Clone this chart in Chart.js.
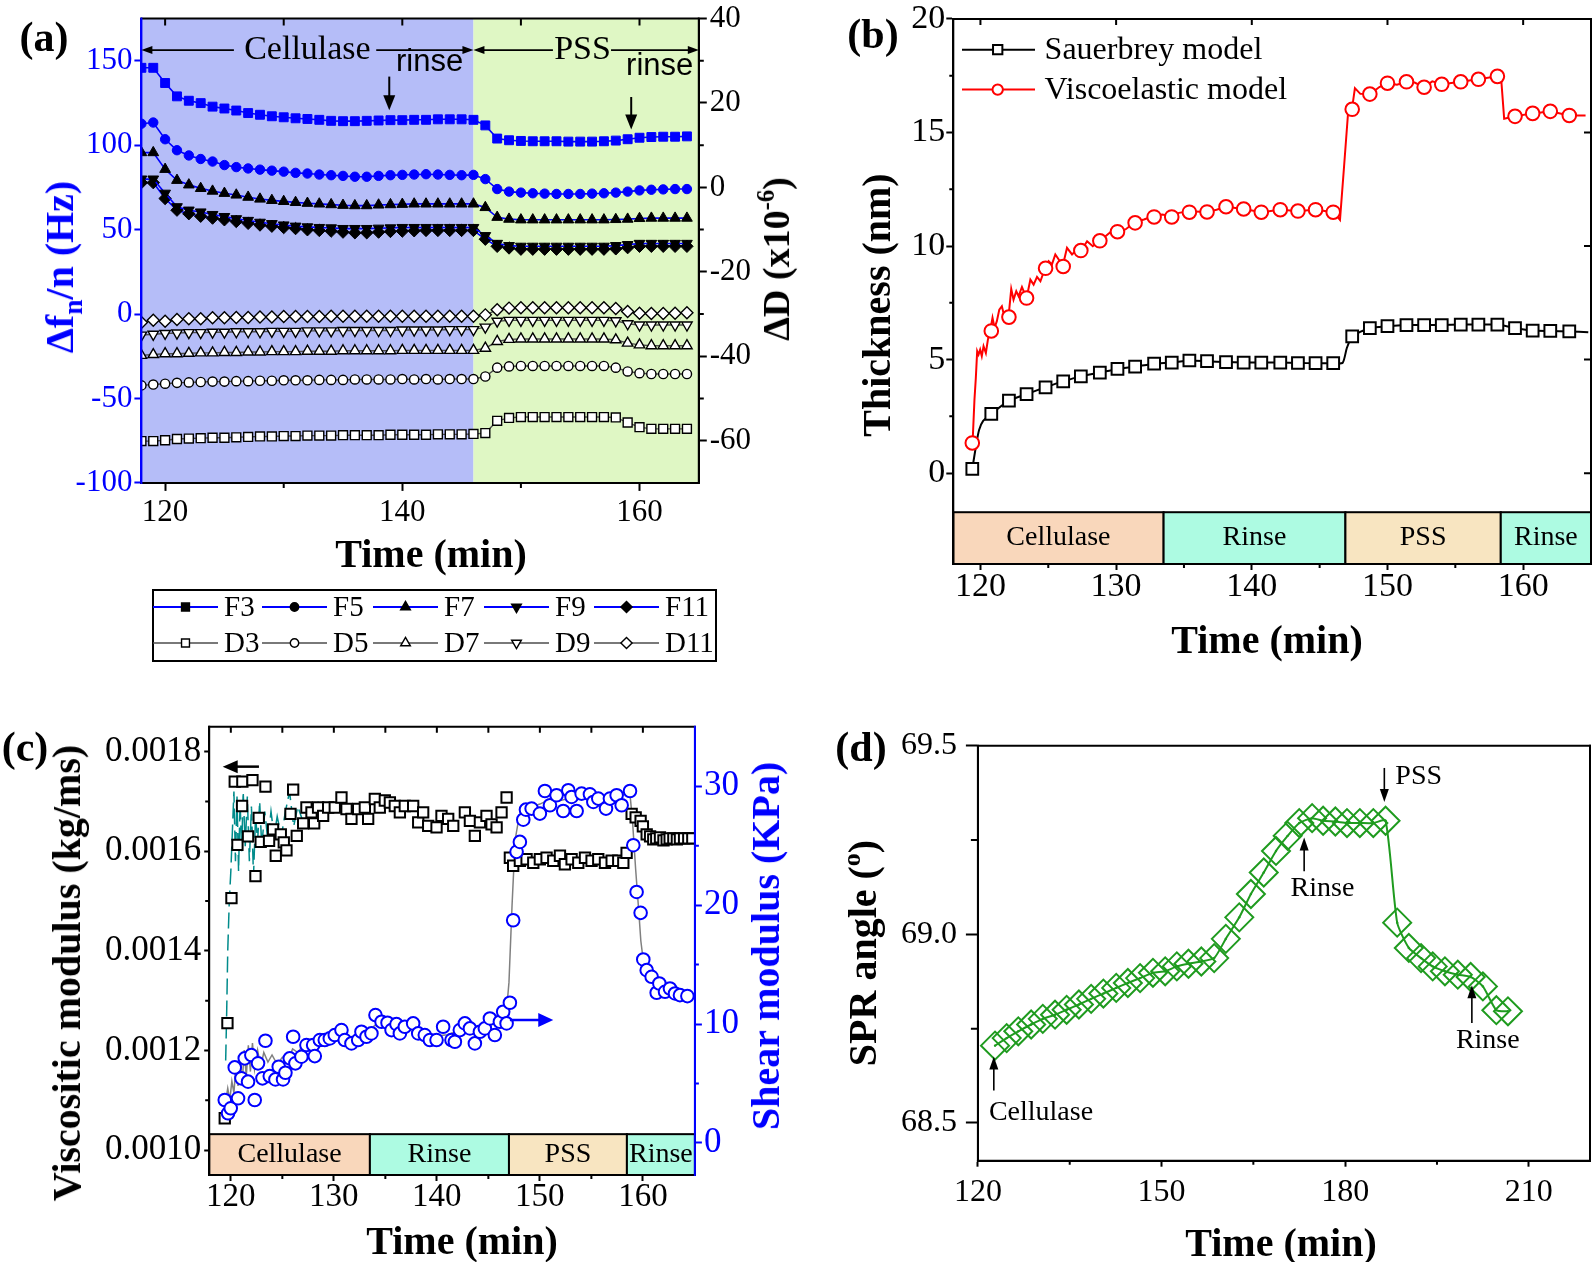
<!DOCTYPE html>
<html lang="en">
<head>
<meta charset="utf-8">
<title>QCM-D / SPR of cellulase and PSS layers</title>
<script src="https://cdn.jsdelivr.net/npm/chart.js@4.4.1/dist/chart.umd.min.js"></script>
<style>
  html, body { margin: 0; padding: 0; background: #fff; }
  body { position: relative; width: 1594px; height: 1262px; overflow: hidden;
         font-family: "Liberation Serif", "Times New Roman", serif; }
  canvas { position: absolute; }
  .t { position: absolute; white-space: nowrap; line-height: 1; font-weight: bold;
       font-size: 40px; color: #000; transform: translate(-50%, -50%); }
  .up { transform: translate(-50%, -50%) rotate(-90deg); }
  .t sub { font-size: 68%; vertical-align: -0.32em; line-height: 0; }
  .t sup { font-size: 65%; vertical-align: 0.62em; line-height: 0; }
</style>
</head>
<body>
<canvas id="chartA" width="760" height="670" style="left:0;top:0"></canvas>
<canvas id="chartB" width="774" height="660" style="left:820px;top:0"></canvas>
<canvas id="chartC" width="800" height="572" style="left:0;top:690px"></canvas>
<canvas id="chartD" width="774" height="572" style="left:820px;top:690px"></canvas>

<div class="t" style="left:44px;top:37px;font-size:42px">(a)</div>
<div class="t" style="left:431px;top:554px">Time (min)</div>
<div class="t up" style="left:60px;top:267px;color:#0000ff">&Delta;f<sub>n</sub>/n (Hz)</div>
<div class="t up" style="left:776px;top:259px;font-size:38px">&Delta;D (x10<sup>-6</sup>)</div>

<div class="t" style="left:873px;top:34px;font-size:42px">(b)</div>
<div class="t" style="left:1267px;top:640px">Time (min)</div>
<div class="t up" style="left:877px;top:305px">Thickness (nm)</div>

<div class="t" style="left:25px;top:747px;font-size:42px">(c)</div>
<div class="t" style="left:462px;top:1241px">Time (min)</div>
<div class="t up" style="left:67px;top:973px">Viscositic modulus (kg/ms)</div>
<div class="t up" style="left:766px;top:946px;color:#0000ff">Shear modulus (KPa)</div>

<div class="t" style="left:861px;top:747px;font-size:42px">(d)</div>
<div class="t" style="left:1281px;top:1243px">Time (min)</div>
<div class="t up" style="left:863px;top:953px">SPR angle (<sup>o</sup>)</div>

<script>
// ==========================================
// DATA — panel (a): QCM-D frequency and dissipation shifts
// ==========================================
const timeA = [118, 119, 120, 121, 122, 123, 124, 125, 126, 127, 128, 129, 130, 131, 132, 133,
  134, 135, 136, 137, 138, 139, 140, 141, 142, 143, 144, 145, 146, 147, 148, 149, 150, 151, 152,
  153, 154, 155, 156, 157, 158, 159, 160, 161, 162, 163, 164];

const freqF3 = [145.8, 145.8, 136.8, 128.9, 126.3, 124.9, 122.8, 121.7, 120.5, 119.0, 118.0, 117.1,
  116.5, 115.9, 115.5, 115.0, 114.4, 114.2, 114.2, 114.4, 114.6, 114.8, 114.8, 115.0, 115.0, 115.3,
  115.3, 115.3, 115.0, 111.7, 103.9, 102.9, 102.5, 102.3, 102.3, 102.3, 102.1, 102.1, 102.1, 102.3,
  102.7, 103.5, 104.4, 104.8, 105.0, 105.0, 105.2];
const freqF5 = [112.7, 113.4, 103.5, 97.0, 93.9, 91.8, 90.3, 88.2, 87.0, 86.2, 85.5, 84.9, 84.3,
  83.6, 83.2, 82.6, 82.2, 81.8, 81.3, 81.3, 81.8, 82.2, 82.4, 82.6, 82.8, 82.6, 82.4, 82.2, 82.4,
  79.9, 74.0, 72.5, 71.9, 71.5, 71.3, 71.1, 71.1, 71.1, 71.3, 71.5, 71.9, 72.5, 73.2, 73.6, 73.8,
  74.0, 74.0];
const freqF7 = [95.6, 95.6, 85.7, 79.2, 76.5, 74.4, 72.8, 71.5, 70.5, 69.2, 68.1, 67.3, 66.7, 66.1,
  65.6, 65.2, 64.8, 64.4, 64.2, 64.2, 64.6, 64.8, 65.0, 65.2, 65.2, 65.2, 65.2, 65.2, 65.2, 63.1,
  57.3, 56.2, 55.8, 55.8, 55.8, 55.8, 55.8, 55.8, 55.8, 55.8, 56.0, 56.2, 56.6, 56.8, 56.8, 56.8, 56.8];
const freqF9 = [79.9, 79.9, 71.5, 63.5, 61.5, 60.4, 58.9, 57.7, 56.4, 55.4, 54.3, 53.5, 52.7, 52.0,
  51.6, 51.2, 51.0, 50.6, 50.6, 50.6, 50.8, 51.0, 51.2, 51.2, 51.2, 51.2, 51.2, 51.2, 51.2, 46.4,
  41.8, 40.5, 40.1, 40.1, 40.1, 40.1, 40.1, 40.1, 40.1, 40.1, 40.5, 41.1, 41.8, 41.8, 41.8, 41.8, 41.8];
const freqF11 = [77.8, 77.8, 68.4, 61.5, 59.4, 57.9, 56.8, 55.8, 54.8, 53.7, 52.7, 52.0, 51.2, 50.6,
  49.9, 49.5, 49.1, 48.5, 48.1, 48.1, 48.5, 48.9, 49.1, 49.3, 49.5, 49.5, 49.5, 49.5, 49.5, 44.3,
  40.1, 39.1, 38.4, 38.4, 38.4, 38.4, 38.4, 38.4, 38.4, 38.4, 38.6, 39.3, 40.1, 40.1, 40.1, 40.1, 40.1];

const dissD3 = [-60.1, -60.1, -59.9, -59.6, -59.5, -59.4, -59.3, -59.3, -59.2, -59.1, -59.0, -59.0,
  -58.9, -58.9, -58.8, -58.8, -58.8, -58.7, -58.7, -58.7, -58.7, -58.6, -58.6, -58.6, -58.6, -58.5,
  -58.5, -58.5, -58.4, -58.2, -55.3, -54.6, -54.4, -54.4, -54.4, -54.4, -54.4, -54.4, -54.4, -54.4,
  -54.5, -55.7, -56.8, -57.2, -57.2, -57.2, -57.2];
const dissD5 = [-46.9, -46.7, -46.5, -46.3, -46.2, -46.1, -46.0, -46.0, -45.9, -45.9, -45.8, -45.8,
  -45.7, -45.7, -45.7, -45.6, -45.6, -45.6, -45.5, -45.5, -45.5, -45.5, -45.4, -45.5, -45.4, -45.5,
  -45.4, -45.4, -45.4, -44.8, -42.7, -42.4, -42.3, -42.3, -42.3, -42.3, -42.3, -42.3, -42.3, -42.3,
  -42.7, -43.6, -44.0, -44.2, -44.2, -44.2, -44.2];
const dissD7 = [-39.8, -39.6, -39.4, -39.4, -39.3, -39.2, -39.2, -39.1, -39.1, -39.0, -39.0, -38.9,
  -38.9, -38.9, -38.8, -38.8, -38.8, -38.7, -38.7, -38.7, -38.7, -38.7, -38.6, -38.6, -38.6, -38.6,
  -38.6, -38.6, -38.6, -38.1, -36.5, -36.0, -35.9, -35.9, -35.9, -35.9, -35.9, -35.9, -35.9, -35.9,
  -36.1, -36.9, -37.3, -37.5, -37.5, -37.5, -37.5];
const dissD9 = [-35.0, -34.8, -34.6, -34.5, -34.4, -34.4, -34.3, -34.3, -34.2, -34.2, -34.2, -34.1,
  -34.1, -34.1, -34.0, -34.0, -34.0, -33.9, -33.9, -33.9, -33.9, -33.9, -33.8, -33.8, -33.8, -33.8,
  -33.7, -33.7, -33.7, -33.1, -31.7, -31.5, -31.5, -31.5, -31.5, -31.5, -31.5, -31.5, -31.5, -31.5,
  -31.6, -32.3, -32.6, -32.6, -32.6, -32.6, -32.6];
const dissD11 = [-32.0, -31.5, -31.7, -31.3, -31.1, -31.1, -30.9, -30.9, -30.8, -30.8, -30.7, -30.7,
  -30.6, -30.6, -30.6, -30.6, -30.5, -30.5, -30.5, -30.5, -30.5, -30.5, -30.5, -30.5, -30.5, -30.5,
  -30.5, -30.5, -30.5, -30.2, -29.0, -28.6, -28.5, -28.5, -28.5, -28.5, -28.5, -28.5, -28.5, -28.5,
  -28.7, -29.4, -29.8, -29.9, -29.9, -29.8, -29.7];

const ticksAx = [120, 140, 160];
const labelsAx = ['120', '140', '160'];
const ticksAyL = [-100, -50, 0, 50, 100, 150];
const labelsAyL = ['-100', '-50', '0', '50', '100', '150'];
const ticksAyR = [-60, -40, -20, 0, 20, 40];
const labelsAyR = ['-60', '-40', '-20', '0', '20', '40'];
const minorAx = [130, 150];
const topAx = [120, 130, 140, 150, 160];
const minorAyR = [-50, -30, -10, 10, 30];
const regionEdgesA = [118, 146, 165];
const regionColorsA = ['#b5bdf8', '#dff7c4'];

// ==========================================
// DATA — panel (b): layer thickness
// ==========================================
const timeB = [119.4, 120.8, 122.1, 123.4, 124.8, 126.1, 127.4, 128.8, 130.1, 131.4, 132.8, 134.1,
  135.4, 136.7, 138.1, 139.4, 140.7, 142.1, 143.4, 144.7, 146.0, 147.4, 148.7, 150.0, 151.4, 152.7,
  154.0, 155.4, 156.7, 158.1, 159.4, 160.7, 162.0, 163.4];
const sauerbrey = [0.19, 2.61, 3.19, 3.48, 3.78, 4.04, 4.26, 4.43, 4.59, 4.69, 4.82, 4.87, 4.96,
  4.93, 4.89, 4.87, 4.87, 4.87, 4.85, 4.84, 4.84, 6.02, 6.39, 6.47, 6.52, 6.52, 6.52, 6.54, 6.54,
  6.54, 6.39, 6.28, 6.26, 6.24];
const viscoelastic = [1.33, 6.26, 6.87, 7.71, 9.02, 9.10, 9.80, 10.23, 10.63, 11.02, 11.28, 11.28,
  11.49, 11.50, 11.73, 11.63, 11.49, 11.60, 11.54, 11.60, 11.49, 16.02, 16.69, 17.17, 17.23, 16.99,
  17.12, 17.23, 17.34, 17.47, 15.71, 15.84, 15.93, 15.75];

// raw traces drawn under the markers
const timeBS = [119.4, 119.7, 119.9, 120.2, 120.8, 122.1, 123.4, 124.8, 126.1, 127.4, 128.8, 130.1,
  131.4, 132.8, 134.1, 135.4, 136.7, 138.1, 139.4, 140.7, 142.1, 143.4, 144.7, 146.0, 146.7, 147.0,
  147.4, 148.7, 150.0, 151.4, 152.7, 154.0, 155.4, 156.7, 158.1, 159.4, 160.7, 162.0, 163.4, 164.8];
const sauerLine = [0.19, 1.3, 1.9, 2.3, 2.61, 3.19, 3.48, 3.78, 4.04, 4.26, 4.43, 4.59, 4.69, 4.82,
  4.87, 4.96, 4.93, 4.89, 4.87, 4.87, 4.87, 4.85, 4.84, 4.84, 4.86, 5.5, 6.02, 6.39, 6.47, 6.52,
  6.52, 6.52, 6.54, 6.54, 6.54, 6.39, 6.28, 6.26, 6.24, 6.2];
const timeBV = [119.42, 119.56, 119.66, 119.76, 119.86, 119.98, 120.10, 120.23, 120.40, 120.55,
  120.72, 120.89, 121.04, 121.21, 121.39, 121.58, 121.73, 122.07, 122.27, 122.44, 122.64, 122.81,
  123.06, 123.40, 123.68, 123.92, 124.17, 124.42, 124.76, 125.03, 125.27, 125.52, 125.77, 126.06,
  126.38, 126.75, 127.12, 127.44, 127.86, 128.28, 128.77, 129.22, 129.66, 130.08, 130.69, 131.38,
  132.05, 132.71, 133.40, 134.02, 134.63, 135.37, 136.73, 137.4, 138.08, 139.39, 140.74, 142.06,
  143.40, 144.72, 146.03, 146.5, 146.8, 147.1, 147.38, 147.6, 148.0, 148.73, 149.4, 150.04, 150.7,
  151.39, 152.0, 152.70, 153.3, 154.05, 155.36, 156.71, 158.06, 158.4, 158.6, 159.37, 160.72,
  162.03, 163.35, 164.6];
const viscoLine = [1.33, 3.24, 4.19, 5.37, 5.22, 5.44, 5.15, 5.59, 5.29, 5.88, 6.28, 6.84, 6.40,
  6.69, 7.20, 7.35, 6.98, 6.88, 8.11, 7.64, 8.01, 7.79, 8.20, 7.70, 8.52, 8.30, 8.64, 8.45, 9.01,
  9.33, 9.19, 9.63, 9.41, 9.11, 9.92, 9.63, 9.85, 9.81, 10.21, 9.99, 10.26, 10.43, 10.65, 10.65,
  10.73, 11.05, 11.17, 11.31, 11.39, 11.31, 11.46, 11.53, 11.50, 11.60, 11.73, 11.63, 11.49, 11.60,
  11.54, 11.60, 11.49, 11.15, 13.5, 15.9, 16.02, 16.95, 16.7, 16.69, 17.0, 17.17, 17.1, 17.23, 17.2,
  16.99, 17.25, 17.12, 17.23, 17.34, 17.47, 17.2, 15.6, 15.71, 15.84, 15.93, 15.75, 15.75];

const ticksBx = [120, 130, 140, 150, 160];
const labelsBx = ['120', '130', '140', '150', '160'];
const ticksBy = [0, 5, 10, 15, 20];
const labelsBy = ['0', '5', '10', '15', '20'];
const minorBx = [125, 135, 145, 155];
const topBx = [120, 130, 140, 150, 160];
const minorBy = [2.5, 7.5, 12.5, 17.5];

// process steps shown in the bands of (b) and (c)
const phaseNames = ['Cellulase', 'Rinse', 'PSS', 'Rinse'];
const phaseEdgesB = [118, 133.5, 146.9, 158.35, 165];
const phaseEdgesC = [117.9, 133.5, 147.0, 158.45, 165.05];
const phaseColors = ['#f9d7bb', '#adfbe2', '#f8e5c1', '#adfbe2'];

// ==========================================
// DATA — panel (c): viscosity and shear modulus
// ==========================================
const timeCv = [119.41, 119.67, 120.06, 120.38, 120.64, 121.09, 121.12, 121.67, 122.10, 122.39,
  122.71, 122.90, 123.36, 123.71, 124.10, 124.36, 124.85, 125.14, 125.40, 125.79, 126.05, 126.40,
  127.02, 127.34, 127.83, 128.09, 128.47, 128.96, 129.45, 130.09, 130.74, 131.23, 131.71, 132.36,
  133.01, 133.33, 133.98, 134.46, 134.95, 135.44, 135.92, 136.41, 136.89, 137.70, 138.19, 138.67,
  139.16, 139.97, 140.45, 141.10, 141.59, 142.72, 143.21, 143.69, 144.18, 144.82, 145.31, 145.80,
  146.28, 146.77, 147.09, 147.41, 148.06, 148.71, 149.36, 150.00, 150.65, 151.30, 151.95, 152.43,
  153.08, 153.73, 154.38, 155.02, 155.67, 156.32, 156.97, 157.61, 158.10, 158.42, 158.91, 159.30,
  159.78, 160.00, 160.37, 160.70, 161.01, 161.30, 161.66, 162.00, 162.31, 162.60, 162.96, 163.30,
  163.60, 164.00, 164.41, 164.80];
const viscosity = [0.001064, 0.001255, 0.001506, 0.001740, 0.001613, 0.001691, 0.001740, 0.001630,
  0.001743, 0.001550, 0.001667, 0.001619, 0.001730, 0.001621, 0.001644, 0.001591, 0.001634,
  0.001618, 0.001602, 0.001675, 0.001724, 0.001631, 0.001656, 0.001688, 0.001678, 0.001656,
  0.001688, 0.001671, 0.001688, 0.001688, 0.001708, 0.001685, 0.001665, 0.001685, 0.001688,
  0.001665, 0.001705, 0.001688, 0.001702, 0.001698, 0.001691, 0.001678, 0.001691, 0.001691,
  0.001658, 0.001678, 0.001651, 0.001648, 0.001671, 0.001665, 0.001651, 0.001678, 0.001661,
  0.001631, 0.001658, 0.001671, 0.001654, 0.001648, 0.001678, 0.001708, 0.001587, 0.001571,
  0.001581, 0.001584, 0.001577, 0.001584, 0.001587, 0.001581, 0.001591, 0.001574, 0.001584,
  0.001577, 0.001587, 0.001581, 0.001584, 0.001577, 0.001581, 0.001581, 0.001577, 0.001597,
  0.001675, 0.001668, 0.001661, 0.001650, 0.001634, 0.001630, 0.001624, 0.001626, 0.001628,
  0.001622, 0.001624, 0.001626, 0.001626, 0.001624, 0.001626, 0.001626, 0.001626, 0.001626];
const timeCs = [119.41, 119.73, 119.99, 120.38, 120.70, 121.03, 121.35, 121.67, 121.99, 122.32,
  122.64, 123.07, 123.36, 123.78, 124.33, 124.65, 125.07, 125.30, 125.72, 126.05, 126.27, 126.85,
  127.34, 127.99, 128.15, 128.64, 129.12, 129.61, 130.09, 130.74, 131.06, 131.71, 132.36, 132.68,
  133.17, 133.65, 134.04, 134.63, 135.21, 135.60, 136.08, 136.41, 136.89, 137.70, 138.19, 138.83,
  139.32, 139.97, 140.61, 141.42, 141.75, 142.23, 142.72, 143.21, 143.69, 144.18, 144.66, 145.15,
  145.63, 146.12, 146.44, 146.77, 147.09, 147.41, 147.74, 148.06, 148.39, 148.65, 149.20, 150.00,
  150.49, 150.98, 151.62, 152.27, 152.76, 153.08, 153.57, 154.05, 154.86, 155.19, 155.67, 156.42,
  156.80, 157.45, 157.94, 158.75, 159.07, 159.39, 159.78, 160.04, 160.37, 160.85, 161.34, 161.60,
  162.15, 162.63, 163.12, 163.60, 164.32];
const shear = [3.61, 2.49, 2.91, 6.35, 3.75, 5.43, 7.11, 5.15, 7.39, 3.61, 6.69, 5.43, 8.59, 5.62,
  5.34, 6.41, 5.34, 5.90, 7.11, 8.93, 6.69, 7.25, 8.23, 8.23, 7.30, 8.65, 8.65, 8.79, 9.07, 9.49,
  8.65, 8.37, 8.65, 9.35, 8.93, 9.21, 10.75, 10.19, 10.11, 9.49, 9.99, 9.21, 9.77, 10.05, 9.21,
  9.07, 8.65, 8.65, 9.77, 8.65, 8.51, 9.49, 10.05, 9.63, 8.37, 9.35, 9.63, 10.47, 9.07, 10.19,
  11.03, 10.05, 11.79, 18.73, 24.48, 25.32, 27.19, 28.03, 28.12, 27.70, 29.60, 28.40, 29.24, 27.92,
  29.66, 29.10, 27.92, 29.38, 29.32, 28.68, 28.96, 28.12, 28.96, 29.24, 28.40, 29.60, 25.04, 21.11,
  19.35, 15.43, 14.53, 13.97, 12.63, 13.41, 12.71, 12.99, 12.57, 12.43, 12.35];
// thin raw traces behind the markers
const timeCt = [119.50, 119.60, 119.70, 119.85, 120.00, 120.15, 120.30, 120.45, 120.60, 120.75,
  120.90, 121.05, 121.20, 121.40, 121.60, 121.80, 122.00, 122.20, 122.40, 122.60, 122.80, 123.00,
  123.30, 123.60, 123.90, 124.20, 124.50, 124.90, 125.30, 125.70, 126.10, 126.50, 127.00, 127.50,
  128.00, 128.50];
const viscTrace = [0.00118, 0.00128, 0.00140, 0.00150, 0.00156, 0.00164, 0.00172, 0.00158, 0.00171,
  0.00156, 0.00170, 0.00160, 0.00172, 0.00161, 0.00171, 0.00158, 0.00169, 0.00155, 0.00167,
  0.00162, 0.00170, 0.00161, 0.00168, 0.00162, 0.00168, 0.00163, 0.00167, 0.00163, 0.00168,
  0.00172, 0.00165, 0.00169, 0.00166, 0.00169, 0.00167, 0.00170];
const timeCg = [119.4, 119.7, 119.9, 120.1, 120.3, 120.5, 120.7, 120.9, 121.1, 121.3, 121.5, 121.7,
  121.9, 122.1, 122.3, 122.6, 122.9, 123.2, 123.6, 124.0, 124.5, 125.0, 125.5, 126.0, 126.5, 127.0,
  127.5, 128.0, 128.5, 129.0, 130.0, 131.0, 132.0, 133.0, 134.0, 135.0, 136.0, 137.0, 138.0, 139.0,
  140.0, 141.0, 142.0, 143.0, 144.0, 145.0, 146.0, 146.8, 147.0, 147.3, 147.6, 148.0, 149.0, 150.0,
  151.0, 152.0, 153.0, 154.0, 155.0, 156.0, 157.0, 158.0, 158.7, 159.0, 159.3, 159.6, 159.8, 160.0,
  160.5, 161.0, 162.0, 163.0, 164.5];
const shearTrace = [3.0, 4.6, 3.6, 5.2, 4.2, 6.6, 4.8, 7.2, 5.0, 7.8, 5.6, 8.2, 6.0, 8.4, 6.2, 7.8,
  6.4, 7.6, 6.8, 7.4, 6.6, 7.2, 6.9, 7.9, 7.6, 8.2, 8.0, 8.6, 8.5, 8.9, 9.1, 8.8, 9.0, 9.2, 9.9, 9.7,
  9.8, 9.6, 9.5, 9.1, 9.0, 9.1, 9.4, 9.6, 9.5, 9.8, 10.2, 11.5, 13.5, 20.0, 25.5, 27.5, 28.2, 28.5,
  28.9, 28.8, 29.0, 28.9, 28.9, 28.8, 29.0, 29.2, 29.8, 27.0, 23.0, 19.5, 17.0, 15.6, 14.3, 13.6,
  13.0, 12.6, 12.4];

const ticksCx = [120, 130, 140, 150, 160];
const labelsCx = ['120', '130', '140', '150', '160'];
const ticksCyL = [0.0010, 0.0012, 0.0014, 0.0016, 0.0018];
const labelsCyL = ['0.0010', '0.0012', '0.0014', '0.0016', '0.0018'];
const ticksCyR = [0, 10, 20, 30];
const labelsCyR = ['0', '10', '20', '30'];
const minorCx = [125, 135, 145, 155];
const topCx = [120, 125, 130, 135, 140, 145, 150, 155, 160];
const minorCyL = [0.0011, 0.0013, 0.0015, 0.0017];
const minorCyR = [5, 15, 25];

// ==========================================
// DATA — panel (d): SPR angle
// ==========================================
const timeD = [122.8, 124.7, 126.6, 128.7, 130.6, 132.6, 134.5, 136.5, 138.5, 140.5, 142.6, 144.5,
  146.5, 148.6, 150.6, 152.5, 154.4, 156.5, 158.6, 160.5, 162.7, 164.6, 166.7, 168.7, 170.6, 172.5,
  174.6, 176.4, 178.4, 180.3, 182.4, 184.6, 186.6, 188.5, 190.4, 192.4, 194.3, 196.3, 198.4, 200.5,
  202.5, 204.7, 206.6];
const sprAngle = [68.705, 68.725, 68.743, 68.761, 68.776, 68.787, 68.800, 68.814, 68.829, 68.843,
  68.858, 68.871, 68.884, 68.898, 68.902, 68.915, 68.922, 68.928, 68.937, 68.988, 69.045, 69.107,
  69.164, 69.221, 69.261, 69.295, 69.308, 69.301, 69.299, 69.295, 69.295, 69.295, 69.301, 69.031,
  68.964, 68.937, 68.915, 68.902, 68.893, 68.887, 68.862, 68.799, 68.796];

const ticksDx = [120, 150, 180, 210];
const labelsDx = ['120', '150', '180', '210'];
const ticksDy = [68.5, 69.0, 69.5];
const labelsDy = ['68.5', '69.0', '69.5'];
const minorDx = [135, 165, 195];
const minorDy = [68.75, 69.25];

// ==========================================
// SHARED HELPERS
// ==========================================
const SERIF = '"Liberation Serif", "Times New Roman", serif';
const SANS = '"Liberation Sans", Arial, sans-serif';
const BLUE = '#0000ff';
const RED = '#ff0000';
const GREEN = '#1f9b1f';

const pts = (xs, ys) => xs.map((x, i) => ({ x: x, y: ys[i] }));

// linear axis with a fixed tick list and a forced box size (so the plot frame lands where we want)
function axis(position, min, max, values, labels, o) {
  const color = o.color || '#000';
  return {
    type: 'linear', position: position, min: min, max: max,
    afterBuildTicks: s => { s.ticks = values.map(v => ({ value: v })); },
    afterFit: s => {
      if (position === 'left' || position === 'right') s.width = o.size;
      else s.height = o.size;
    },
    ticks: {
      autoSkip: false, maxRotation: 0, color: color, padding: o.pad,
      font: { family: SERIF, size: o.font, lineHeight: 1 },
      callback: (v, i) => labels[i]
    },
    grid: { drawOnChartArea: false, drawTicks: true, tickLength: o.tick, tickWidth: 2, tickColor: color, color: color },
    border: { display: true, color: color, width: 2 }
  };
}

function baseOptions(padding, scales) {
  return {
    responsive: false, animation: false, events: [],
    layout: { padding: padding, autoPadding: false },
    plugins: { legend: { display: false }, tooltip: { enabled: false } },
    scales: scales
  };
}

// marker used by the hand-drawn legends (same shapes as Chart.js point styles)
function marker(ctx, style, x, y, r, fill, stroke, lw, rot) {
  ctx.save();
  ctx.translate(x, y);
  if (rot) ctx.rotate(rot * Math.PI / 180);
  ctx.beginPath();
  if (style === 'circle') ctx.arc(0, 0, r, 0, 2 * Math.PI);
  else if (style === 'rect') { const s = r * Math.SQRT1_2; ctx.rect(-s, -s, 2 * s, 2 * s); }
  else if (style === 'triangle') {
    for (let k = 0; k < 3; k++) {
      const a = k * 2 * Math.PI / 3;
      ctx.lineTo(Math.sin(a) * r, -Math.cos(a) * r);
    }
    ctx.closePath();
  } else if (style === 'rectRot') {
    ctx.moveTo(-r, 0); ctx.lineTo(0, -r); ctx.lineTo(r, 0); ctx.lineTo(0, r); ctx.closePath();
  }
  ctx.fillStyle = fill; ctx.fill();
  ctx.lineWidth = lw; ctx.strokeStyle = stroke; ctx.stroke();
  ctx.restore();
}

// straight arrow, head at (x2, y2)
function arrow(ctx, x1, y1, x2, y2, color, lw, head, half) {
  const a = Math.atan2(y2 - y1, x2 - x1);
  const c = Math.cos(a), s = Math.sin(a);
  ctx.save();
  ctx.strokeStyle = color; ctx.fillStyle = color; ctx.lineWidth = lw;
  ctx.beginPath(); ctx.moveTo(x1, y1); ctx.lineTo(x2 - c * head * 0.7, y2 - s * head * 0.7); ctx.stroke();
  ctx.beginPath();
  ctx.moveTo(x2, y2);
  ctx.lineTo(x2 - head * c + half * s, y2 - head * s - half * c);
  ctx.lineTo(x2 - head * c - half * s, y2 - head * s + half * c);
  ctx.closePath(); ctx.fill();
  ctx.restore();
}

function text(ctx, str, x, y, font, align, color) {
  ctx.save();
  ctx.font = font; ctx.fillStyle = color || '#000';
  ctx.textAlign = align || 'center'; ctx.textBaseline = 'middle';
  ctx.fillText(str, x, y);
  ctx.restore();
}

// plot frame, one colour per side
function frame(chart, colors) {
  const { ctx, chartArea: a } = chart;
  const c = Object.assign({ left: '#000', right: '#000', top: '#000', bottom: '#000' }, colors || {});
  const sides = [['top', a.left, a.top, a.right, a.top], ['bottom', a.left, a.bottom, a.right, a.bottom],
    ['right', a.right, a.top, a.right, a.bottom], ['left', a.left, a.top, a.left, a.bottom]];
  ctx.save();
  ctx.lineWidth = 2; ctx.lineCap = 'square';
  sides.forEach(([k, x1, y1, x2, y2]) => {
    ctx.strokeStyle = c[k];
    ctx.beginPath(); ctx.moveTo(x1, y1); ctx.lineTo(x2, y2); ctx.stroke();
  });
  ctx.restore();
}

// extra tick marks (len > 0 outward, len < 0 inward)
function tickMarks(chart, scaleId, side, values, len, color) {
  const { ctx, chartArea: a } = chart;
  const s = chart.scales[scaleId];
  ctx.save();
  ctx.strokeStyle = color || '#000'; ctx.lineWidth = 2;
  ctx.beginPath();
  values.forEach(v => {
    const p = s.getPixelForValue(v);
    if (side === 'bottom') { ctx.moveTo(p, a.bottom); ctx.lineTo(p, a.bottom + len); }
    if (side === 'top') { ctx.moveTo(p, a.top); ctx.lineTo(p, a.top - len); }
    if (side === 'left') { ctx.moveTo(a.left, p); ctx.lineTo(a.left - len, p); }
    if (side === 'right') { ctx.moveTo(a.right, p); ctx.lineTo(a.right + len, p); }
  });
  ctx.stroke();
  ctx.restore();
}

// coloured step band along the bottom of the plot
function band(chart, edges, topValue) {
  const { ctx, chartArea: a, scales } = chart;
  const yTop = scales.y.getPixelForValue(topValue);
  ctx.save();
  for (let i = 0; i < phaseNames.length; i++) {
    const x1 = Math.max(a.left, scales.x.getPixelForValue(edges[i]));
    const x2 = Math.min(a.right, scales.x.getPixelForValue(edges[i + 1]));
    ctx.fillStyle = phaseColors[i];
    ctx.fillRect(x1, yTop, x2 - x1, a.bottom - yTop);
    ctx.strokeStyle = '#000'; ctx.lineWidth = 2;
    ctx.strokeRect(x1, yTop, x2 - x1, a.bottom - yTop);
    text(ctx, phaseNames[i], (x1 + x2) / 2, (yTop + a.bottom) / 2, '28px ' + SERIF);
  }
  ctx.restore();
}

// ==========================================
// PANEL (a)
// ==========================================
function fSet(label, data, style, rot, color) {
  return {
    label: label, data: pts(timeA, data), yAxisID: 'y', showLine: true, tension: 0,
    borderColor: BLUE, borderWidth: 1.6,
    pointStyle: style, pointRotation: rot,
    pointRadius: style === 'circle' ? 4.7 : (style === 'rect' ? 6.3 : 6.2),
    pointBackgroundColor: color, pointBorderColor: color, pointBorderWidth: 1
  };
}
function dSet(label, data, style, rot) {
  return {
    label: label, data: pts(timeA, data), yAxisID: 'y2', showLine: true, tension: 0,
    borderColor: '#4d4d4d', borderWidth: 1.4,
    pointStyle: style, pointRotation: rot,
    pointRadius: style === 'circle' ? 4.6 : (style === 'rect' ? 6.3 : 6),
    pointBackgroundColor: '#fff', pointBorderColor: '#000', pointBorderWidth: 1.4
  };
}

new Chart(document.getElementById('chartA'), {
  type: 'scatter',
  data: {
    datasets: [
      fSet('F3', freqF3, 'rect', 0, BLUE),
      fSet('F5', freqF5, 'circle', 0, BLUE),
      fSet('F7', freqF7, 'triangle', 0, '#000'),
      fSet('F9', freqF9, 'triangle', 180, '#000'),
      fSet('F11', freqF11, 'rectRot', 0, '#000'),
      dSet('D3', dissD3, 'rect', 0),
      dSet('D5', dissD5, 'circle', 0),
      dSet('D7', dissD7, 'triangle', 0),
      dSet('D9', dissD9, 'triangle', 180),
      dSet('D11', dissD11, 'rectRot', 0)
    ]
  },
  options: baseOptions({ left: 0, right: 0, top: 13.6, bottom: 0 }, {
    x: axis('bottom', 118, 165, ticksAx, labelsAx, { size: 187.1, pad: 6, font: 31, tick: 8 }),
    y: axis('left', -100, 175, ticksAyL, labelsAyL, { size: 141.4, pad: 2, font: 31, tick: 7, color: BLUE }),
    y2: axis('right', -70, 40, ticksAyR, labelsAyR, { size: 61.2, pad: 3, font: 31, tick: 8 })
  }),
  plugins: [{
    id: 'decorA',
    beforeDraw(c) {
      const { ctx, chartArea: a, scales: { x } } = c;
      ctx.save();
      regionColorsA.forEach((col, i) => {
        const x1 = x.getPixelForValue(regionEdgesA[i]), x2 = x.getPixelForValue(regionEdgesA[i + 1]);
        ctx.fillStyle = col;
        ctx.fillRect(x1, a.top, x2 - x1, a.bottom - a.top);
      });
      ctx.restore();
    },
    afterDatasetsDraw(c) {
      const { ctx, scales: { x, y } } = c;
      frame(c, { left: BLUE });
      tickMarks(c, 'x', 'bottom', minorAx, 5);
      tickMarks(c, 'x', 'top', topAx, -7);
      tickMarks(c, 'y2', 'right', minorAyR, 5);
      // step arrows on top
      const yy = y.getPixelForValue(156.3);
      arrow(ctx, x.getPixelForValue(125.8), yy, x.getPixelForValue(118), yy, '#000', 1.6, 11, 4);
      arrow(ctx, x.getPixelForValue(137.8), yy, x.getPixelForValue(146), yy, '#000', 1.6, 11, 4);
      arrow(ctx, x.getPixelForValue(152.7), yy, x.getPixelForValue(146), yy, '#000', 1.6, 11, 4);
      arrow(ctx, x.getPixelForValue(157.6), yy, x.getPixelForValue(165), yy, '#000', 1.6, 11, 4);
      text(ctx, 'Cellulase', x.getPixelForValue(132.0), yy, '34px ' + SERIF);
      text(ctx, 'PSS', x.getPixelForValue(155.2), yy, '34px ' + SERIF);
      text(ctx, 'rinse', x.getPixelForValue(142.3), y.getPixelForValue(149), '31px ' + SANS);
      text(ctx, 'rinse', x.getPixelForValue(161.7), y.getPixelForValue(146.9), '31px ' + SANS);
      arrow(ctx, x.getPixelForValue(138.9), y.getPixelForValue(140.6), x.getPixelForValue(138.9), y.getPixelForValue(120.7), '#000', 2, 15, 6);
      arrow(ctx, x.getPixelForValue(159.3), y.getPixelForValue(128.5), x.getPixelForValue(159.3), y.getPixelForValue(109.2), '#000', 2, 15, 6);
    },
    afterDraw(c) {
      // two-row legend under the axis title
      const ctx = c.ctx;
      const xs = [153, 262, 373, 484, 594], rows = [607, 643];
      ctx.save();
      ctx.strokeStyle = '#000'; ctx.lineWidth = 2;
      ctx.strokeRect(153, 590, 563, 71);
      c.data.datasets.forEach((ds, i) => {
        const x0 = xs[i % 5], yy = rows[Math.floor(i / 5)];
        const filled = i < 5;
        ctx.strokeStyle = ds.borderColor; ctx.lineWidth = filled ? 2 : 1.4;
        ctx.beginPath(); ctx.moveTo(x0, yy); ctx.lineTo(x0 + 65, yy); ctx.stroke();
        const r = ds.pointStyle === 'circle' ? 4.2 : 5.6;
        marker(ctx, ds.pointStyle, x0 + 32.5, yy, r, filled ? '#000' : '#fff', '#000', 1.4, ds.pointRotation);
        text(ctx, ds.label, x0 + 71, yy + 1, '29px ' + SERIF, 'left');
      });
      ctx.restore();
    }
  }]
});

// ==========================================
// PANEL (b)
// ==========================================
new Chart(document.getElementById('chartB'), {
  type: 'scatter',
  data: {
    datasets: [
      { label: 'Sauerbrey trace', data: pts(timeBS, sauerLine), showLine: true, borderColor: '#000',
        borderWidth: 2, pointRadius: 0, tension: 0.2, order: 4 },
      { label: 'Sauerbrey model', data: pts(timeB, sauerbrey), showLine: false, pointStyle: 'rect',
        pointRadius: 8.3, pointBackgroundColor: '#fff', pointBorderColor: '#000', pointBorderWidth: 2,
        borderColor: '#000', order: 3 },
      { label: 'Viscoelastic trace', data: pts(timeBV, viscoLine), showLine: true, borderColor: RED,
        borderWidth: 2, pointRadius: 0, tension: 0, order: 2 },
      { label: 'Viscoelastic model', data: pts(timeB, viscoelastic), showLine: false, pointStyle: 'circle',
        pointRadius: 6.8, pointBackgroundColor: '#fff', pointBorderColor: RED, pointBorderWidth: 2,
        borderColor: RED, order: 1 }
    ]
  },
  options: baseOptions({ left: 0, right: 3, top: 18.9, bottom: 0 }, {
    x: axis('bottom', 118, 165, ticksBx, labelsBx, { size: 96, pad: 0, font: 34, tick: 6 }),
    y: axis('left', -4, 20, ticksBy, labelsBy, { size: 133.3, pad: 1, font: 34, tick: 7 })
  }),
  plugins: [{
    id: 'decorB',
    afterDatasetsDraw(c) {
      const ctx = c.ctx;
      band(c, phaseEdgesB, -1.72);
      frame(c);
      tickMarks(c, 'x', 'bottom', minorBx, 4);
      tickMarks(c, 'x', 'top', topBx, -6);
      tickMarks(c, 'y', 'left', minorBy, 4);
      tickMarks(c, 'y', 'right', [0, 5, 10, 15], -7);
      // legend in the upper left corner
      [c.data.datasets[1], c.data.datasets[3]].forEach((ds, i) => {
        const yy = [49.7, 89.6][i];
        ctx.save();
        ctx.strokeStyle = ds.borderColor; ctx.lineWidth = 2;
        ctx.beginPath(); ctx.moveTo(142, yy); ctx.lineTo(215, yy); ctx.stroke();
        ctx.restore();
        marker(ctx, ds.pointStyle, 177.7, yy, ds.pointStyle === 'rect' ? 6.6 : 5.2, '#fff', ds.pointBorderColor, 2, 0);
        text(ctx, ds.label, 224.6, yy + 1, '32px ' + SERIF, 'left');
      });
    }
  }]
});

// ==========================================
// PANEL (c)
// ==========================================
new Chart(document.getElementById('chartC'), {
  type: 'scatter',
  data: {
    datasets: [
      { label: 'Shear modulus', data: pts(timeCs, shear), yAxisID: 'y2', showLine: false,
        pointStyle: 'circle', pointRadius: 6.3, pointBackgroundColor: '#fff', pointBorderColor: BLUE,
        pointBorderWidth: 2, order: 1 },
      { label: 'Viscosity', data: pts(timeCv, viscosity), yAxisID: 'y', showLine: false,
        pointStyle: 'rect', pointRadius: 7.3, pointBackgroundColor: '#fff', pointBorderColor: '#000',
        pointBorderWidth: 2, order: 2 },
      { label: 'Shear trace', data: pts(timeCg, shearTrace), yAxisID: 'y2', showLine: true,
        borderColor: '#808080', borderWidth: 1.5, pointRadius: 0, tension: 0, order: 3 },
      { label: 'Viscosity trace', data: pts(timeCt, viscTrace), yAxisID: 'y', showLine: true,
        borderColor: '#008b8b', borderWidth: 1.5, borderDash: [16, 6], pointRadius: 0, tension: 0, order: 4 }
    ]
  },
  options: baseOptions({ left: 0, right: 0, top: 36.8, bottom: 0 }, {
    x: axis('bottom', 117.9, 165.05, ticksCx, labelsCx, { size: 87, pad: 0, font: 33, tick: 6 }),
    y: axis('left', 0.00095, 0.00185, ticksCyL, labelsCyL, { size: 209.2, pad: 3, font: 35, tick: 5 }),
    y2: axis('right', -2.7, 35, ticksCyR, labelsCyR, { size: 105.1, pad: 2, font: 35, tick: 7, color: BLUE })
  }),
  plugins: [{
    id: 'decorC',
    afterDatasetsDraw(c) {
      const { ctx, scales: { x, y, y2 } } = c;
      band(c, phaseEdgesC, 0.001032);
      frame(c, { right: BLUE });
      tickMarks(c, 'x', 'bottom', minorCx, 4);
      tickMarks(c, 'x', 'top', topCx, -6);
      tickMarks(c, 'y', 'left', minorCyL, 4);
      tickMarks(c, 'y2', 'right', minorCyR, 4, BLUE);
      // axis pointers
      const ya = y.getPixelForValue(0.00177);
      arrow(ctx, x.getPixelForValue(122.73), ya, x.getPixelForValue(119.21), ya, '#000', 2.5, 15, 6.5);
      const yb = y2.getPixelForValue(10.33);
      arrow(ctx, x.getPixelForValue(147.09), yb, x.getPixelForValue(151.3), yb, BLUE, 2.5, 15, 7);
    }
  }]
});

// ==========================================
// PANEL (d)
// ==========================================
new Chart(document.getElementById('chartD'), {
  type: 'scatter',
  data: {
    datasets: [
      { label: 'SPR centre', data: pts(timeD, sprAngle), showLine: false, pointStyle: 'circle',
        pointRadius: 1.2, pointBorderWidth: 0, pointBackgroundColor: GREEN, order: 1 },
      { label: 'SPR angle', data: pts(timeD, sprAngle), showLine: true, borderColor: GREEN,
        borderWidth: 2, tension: 0.2, pointStyle: 'rectRot', pointRadius: 14,
        pointBackgroundColor: 'rgba(0,0,0,0)', pointBorderColor: GREEN, pointBorderWidth: 2, order: 2 }
    ]
  },
  options: baseOptions({ left: 0, right: 4, top: 55.7, bottom: 0 }, {
    x: axis('bottom', 120, 220, ticksDx, labelsDx, { size: 101.3, pad: 10, font: 32, tick: 6 }),
    y: axis('left', 68.4, 69.5, ticksDy, labelsDy, { size: 157.9, pad: 9, font: 32, tick: 12 })
  }),
  plugins: [{
    id: 'decorD',
    afterDatasetsDraw(c) {
      const { ctx, scales: { x, y } } = c;
      frame(c);
      tickMarks(c, 'x', 'bottom', minorDx, 4);
      tickMarks(c, 'y', 'left', minorDy, 7);
      const f = '28px ' + SERIF;
      arrow(ctx, x.getPixelForValue(122.6), y.getPixelForValue(68.586), x.getPixelForValue(122.6), y.getPixelForValue(68.676), '#000', 1.6, 13, 4.5);
      text(ctx, 'Cellulase', x.getPixelForValue(121.8), y.getPixelForValue(68.528), f, 'left');
      arrow(ctx, x.getPixelForValue(173.3), y.getPixelForValue(69.167), x.getPixelForValue(173.3), y.getPixelForValue(69.257), '#000', 1.6, 13, 4.5);
      text(ctx, 'Rinse', x.getPixelForValue(176.3), y.getPixelForValue(69.122), f);
      arrow(ctx, x.getPixelForValue(186.4), y.getPixelForValue(69.441), x.getPixelForValue(186.4), y.getPixelForValue(69.351), '#000', 1.6, 13, 4.5);
      text(ctx, 'PSS', x.getPixelForValue(188.2), y.getPixelForValue(69.418), f, 'left');
      arrow(ctx, x.getPixelForValue(200.7), y.getPixelForValue(68.765), x.getPixelForValue(200.7), y.getPixelForValue(68.865), '#000', 1.6, 13, 4.5);
      text(ctx, 'Rinse', x.getPixelForValue(203.3), y.getPixelForValue(68.718), f);
    }
  }]
});
</script>
</body>
</html>
